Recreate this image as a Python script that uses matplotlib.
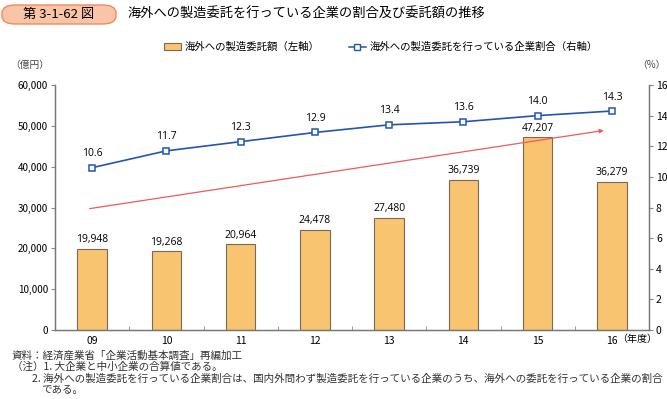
import matplotlib
matplotlib.use("Agg")
import matplotlib.pyplot as plt
from matplotlib.patches import FancyBboxPatch
from matplotlib.lines import Line2D
from matplotlib.patches import Patch

plt.rcParams['font.family'] = ['Noto Sans CJK JP', 'DejaVu Sans']

# データ
nendo = ["09", "10", "11", "12", "13", "14", "15", "16"]
itaku_gaku = [19948, 19268, 20964, 24478, 27480, 36739, 47207, 36279]   # 億円
kigyo_wariai = [10.6, 11.7, 12.3, 12.9, 13.4, 13.6, 14.0, 14.3]        # %
left_ticks = [0, 10000, 20000, 30000, 40000, 50000, 60000]
right_ticks = [0, 2, 4, 6, 8, 10, 12, 14, 16]

W, H = 667, 399
fig = plt.figure(figsize=(W / 100, H / 100), dpi=100)

def px(x0, y0, x1, y1):
    return [x0 / W, 1 - y1 / H, (x1 - x0) / W, (y1 - y0) / H]

ax = fig.add_axes(px(55, 85, 649, 330))
ax2 = ax.twinx()

x = list(range(len(nendo)))
bar_col = "#F9C470"
edge_col = "#7a6a55"
line_col = "#2355b0"

ax.bar(x, itaku_gaku, width=0.4, color=bar_col, edgecolor=edge_col, linewidth=0.8, zorder=2)
for xi, v in zip(x, itaku_gaku):
    ax.text(xi, v + 900, f"{v:,}", ha="center", va="bottom", fontsize=7.5, family=["Open Sans", "DejaVu Sans"])

ax.set_xlim(-0.5, len(nendo) - 0.5)
ax.set_ylim(0, 60000)
ax.set_yticks(left_ticks)
ax.set_yticklabels([f"{t:,}" for t in left_ticks], fontsize=7)
ax.set_xticks(x)
ax.set_xticklabels(nendo, fontsize=7.5)
ax.set_xticks([i + 0.5 for i in x[:-1]], minor=True)
ax.tick_params(axis="x", which="major", length=0, pad=4)
ax.tick_params(axis="x", which="minor", direction="in", length=3, color="#888888")
ax.tick_params(axis="y", direction="out", length=3, color="#888888", pad=2)

ax2.set_ylim(0, 16)
ax2.set_yticks(right_ticks)
ax2.set_yticklabels([str(t) for t in right_ticks], fontsize=7.5)
ax2.tick_params(axis="y", direction="out", length=3, color="#888888", pad=2)
ax2.plot(x, kigyo_wariai, color=line_col, linewidth=1.2, marker="s", markersize=5,
         markerfacecolor="white", markeredgecolor=line_col, markeredgewidth=1.1, zorder=3)
for xi, v in zip(x, kigyo_wariai):
    ax2.text(xi, v + 0.55, f"{v:.1f}", ha="center", va="bottom", fontsize=7.5, family=["Open Sans", "DejaVu Sans"])

# 傾向を示す矢印
ax2.annotate("", xy=(6.93, 13.06), xytext=(-0.07, 7.9),
             arrowprops=dict(arrowstyle="-|>", color="#f05a5a", lw=0.9, mutation_scale=6))

for a in (ax, ax2):
    a.spines["top"].set_visible(False)
    for s in ("left", "right", "bottom"):
        a.spines[s].set_color("#777777")
        a.spines[s].set_linewidth(0.9)

fig.text(30 / W, 1 - 65 / H, "（億円）", fontsize=7, ha="center", va="center", color="#444444")
fig.text(666 / W, 1 - 65 / H, "（%）", fontsize=7, ha="right", va="center", color="#444444")
fig.text(617 / W, 1 - 339 / H, "（年度）", fontsize=7.2, ha="left", va="center")

# 凡例
handles = [Patch(facecolor=bar_col, edgecolor=edge_col, linewidth=0.8),
           Line2D([0], [0], color=line_col, marker="s", markersize=4.5, markerfacecolor="white",
                  markeredgecolor=line_col, linewidth=1.1)]
fig.legend(handles, ["海外への製造委託額（左軸）", "海外への製造委託を行っている企業割合（右軸）"],
           loc="center", bbox_to_anchor=(381 / W, 1 - 47 / H), ncol=2, frameon=False,
           fontsize=7.5, handlelength=1.6, handleheight=0.6, columnspacing=2.8, handletextpad=0.4)

# 図番号とタイトル
box = FancyBboxPatch((2 / W, 1 - 24 / H), 114 / W, 19 / H,
                     boxstyle="round,pad=0,rounding_size=0.02", transform=fig.transFigure,
                     facecolor="#F9C4A8", edgecolor="#EE8A5E", linewidth=1.0)
fig.patches.append(box)
fig.text(59 / W, 1 - 14.5 / H, "第 3-1-62 図", fontsize=9.5, ha="center", va="center")
fig.text(127 / W, 1 - 14.5 / H, "海外への製造委託を行っている企業の割合及び委託額の推移",
         fontsize=9.5, ha="left", va="center")

# 注記
notes = [
    (12, 356, "資料：経済産業省「企業活動基本調査」再編加工"),
    (12, 367, "（注）1. 大企業と中小企業の合算値である。"),
    (32, 379, "2. 海外への製造委託を行っている企業割合は、国内外問わず製造委託を行っている企業のうち、海外への委託を行っている企業の割合"),
    (41, 390, "である。"),
]
for nx, ny, t in notes:
    fig.text(nx / W, 1 - ny / H, t, fontsize=7.6, ha="left", va="center", color="#333333")

fig.savefig("out.png", dpi=100)
